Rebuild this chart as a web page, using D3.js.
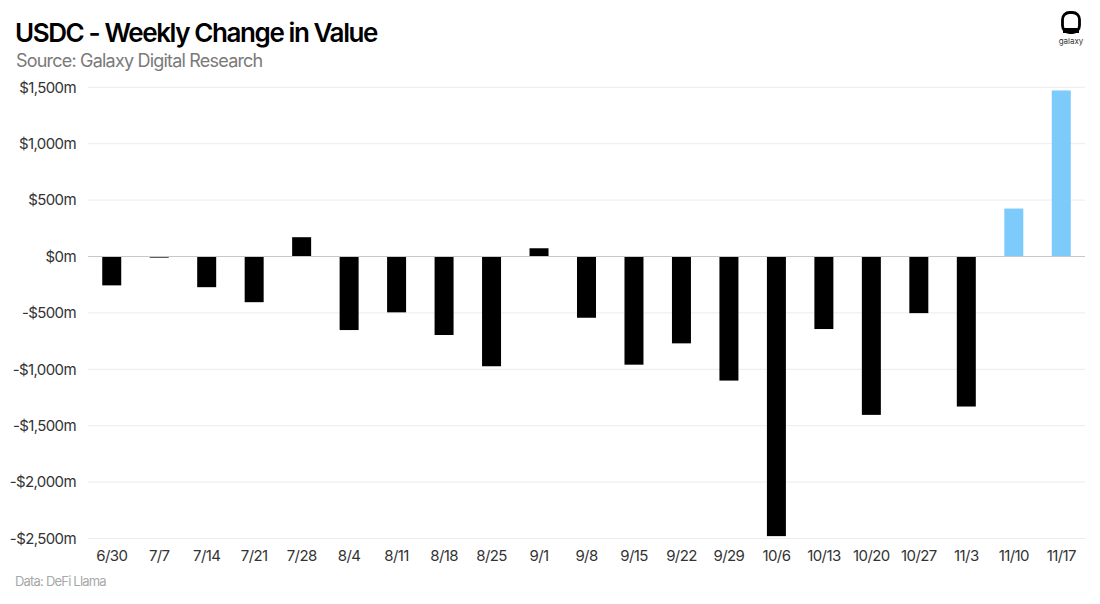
<!DOCTYPE html>
<html>
<head>
<meta charset="utf-8">
<script src="https://cdn.jsdelivr.net/npm/d3@7"></script>
<style>
  html, body { margin: 0; padding: 0; background: #fff; }
  svg { display: block; }
  text { font-family: Inter, "Noto Sans", sans-serif; }
</style>
</head>
<body>
<svg id="chart" width="1100" height="604"></svg>
<script>
const categories = ["6/30","7/7","7/14","7/21","7/28","8/4","8/11","8/18","8/25","9/1","9/8","9/15","9/22","9/29","10/6","10/13","10/20","10/27","11/3","11/10","11/17"];
const values = [-256, -10, -272, -405, 171, -652, -495, -696, -973, 73, -543, -959, -770, -1100, -2479, -643, -1404, -502, -1330, 425, 1472];
const highlighted = ["11/10","11/17"];
const yTicks = [1500, 1000, 500, 0, -500, -1000, -1500, -2000, -2500];

const svg = d3.select("#chart");
const margin = {left: 88, right: 15, top: 87.3, bottom: 65.5};
const W = 1100, H = 604;

const x = d3.scaleBand().domain(categories).range([margin.left, W - margin.right]).paddingInner(0.6).paddingOuter(0.3);
const y = d3.scaleLinear().domain([-2500, 1500]).range([H - margin.bottom, margin.top]);

// gridlines
svg.append("g").selectAll("line").data(yTicks.filter(d => d !== 0)).join("line")
  .attr("x1", margin.left).attr("x2", W - margin.right)
  .attr("y1", d => y(d)).attr("y2", d => y(d))
  .attr("stroke", "#ececec").attr("stroke-width", 1);

// y axis labels
const fmt = d => (d < 0 ? "-" : "") + "$" + d3.format(",")(Math.abs(d)) + "m";
const yAxis = d3.axisLeft(y).tickValues(yTicks).tickFormat(fmt).tickSize(0).tickPadding(12);
const gy = svg.append("g").attr("transform", `translate(${margin.left},0)`).call(yAxis);
gy.select(".domain").remove();
gy.selectAll("text").attr("font-size", 15).attr("fill", "#333").attr("letter-spacing", "-0.6px")
  .attr("font-family", "Inter, sans-serif");

// bars
svg.append("g").selectAll("rect").data(categories).join("rect")
  .attr("x", (d) => x(d))
  .attr("width", x.bandwidth())
  .attr("y", (d, i) => y(Math.max(0, values[i])))
  .attr("height", (d, i) => Math.max(1, Math.abs(y(values[i]) - y(0))))
  .attr("fill", d => highlighted.includes(d) ? "#7ccbfb" : "#000");

// zero line
svg.append("line")
  .attr("x1", margin.left).attr("x2", W - margin.right)
  .attr("y1", y(0)).attr("y2", y(0))
  .attr("stroke", "#c8c8c8").attr("stroke-width", 1);

// x axis labels
const xAxis = d3.axisBottom(x).tickSize(0).tickPadding(0);
const gx = svg.append("g").attr("transform", `translate(0,${H - margin.bottom + 12})`).call(xAxis);
gx.select(".domain").remove();
gx.selectAll("text").attr("font-size", 15).attr("fill", "#333").attr("dy", "0.71em").attr("letter-spacing", "-0.6px")
  .attr("font-family", "Inter, sans-serif");

// titles
svg.append("text").attr("x", 15).attr("y", 42).text("USDC - Weekly Change in Value")
  .attr("font-size", 26).attr("font-weight", 600).attr("fill", "#000").attr("letter-spacing", "-1.4px");
svg.append("text").attr("x", 16).attr("y", 67).text("Source: Galaxy Digital Research")
  .attr("font-size", 18).attr("fill", "#7a7a7a").attr("letter-spacing", "-0.8px");
svg.append("text").attr("x", 15).attr("y", 586).text("Data: DeFi Llama")
  .attr("font-size", 13).attr("fill", "#a8a8a8").attr("letter-spacing", "-0.8px");

// logo
const logo = svg.append("g").attr("transform", "translate(1071,23)");
logo.append("rect").attr("x", -8.5).attr("y", -10.5).attr("width", 17).attr("height", 20).attr("rx", 7)
  .attr("fill", "none").attr("stroke", "#000").attr("stroke-width", 2.8);
logo.append("rect").attr("x", -8).attr("y", 5).attr("width", 16).attr("height", 5).attr("fill", "#000");
logo.append("text").attr("x", 0).attr("y", 21).attr("text-anchor", "middle").text("galaxy")
  .attr("font-size", 8).attr("fill", "#333");
</script>
</body>
</html>
